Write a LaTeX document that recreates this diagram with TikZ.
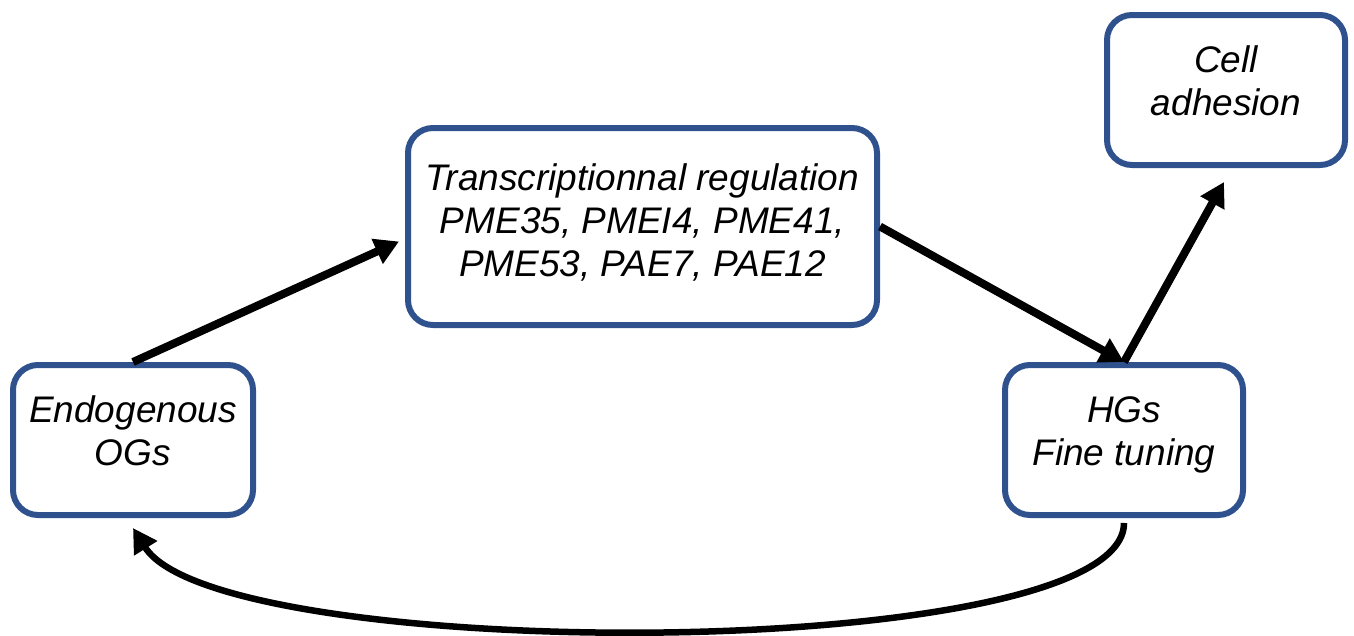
\documentclass[tikz,border=0pt]{standalone}
\usepackage{fontspec}
\setmainfont{Liberation Sans}
\usetikzlibrary{arrows.meta}
\definecolor{boxblue}{RGB}{47,82,143}

\begin{document}
\begin{tikzpicture}[x=1pt,y=-1pt]
            \tikzstyle{every node}+=[font=\fontsize{37}{43}\selectfont\itshape, align=center, inner sep=0pt]
            \tikzstyle{stage}=[draw=boxblue, line width=6pt, rounded corners=25pt, minimum width=240pt, minimum height=150pt, text depth=18pt]
            \tikzstyle{flow}=[black, line width=8pt, -{Triangle[length=24pt,width=26pt]}]
            \useasboundingbox (0,0) rectangle (1354,635);
            \node [stage] (ogs) at (133,440) {Endogenous\\OGs};
            \node [stage, minimum width=469pt, minimum height=197pt, text depth=12pt] (trans) at (642.5,226.5) {Transcriptionnal regulation\\PME35, PMEI4, PME41,\\PME53, PAE7, PAE12};
            \node [stage, minimum width=238pt] (hgs) at (1124,440) {HGs\\Fine tuning};
            \node [stage, minimum width=238pt] (cell) at (1226,90) {Cell\\adhesion};
            \draw [flow] (ogs.north) -- ([xshift=-6pt,yshift=-15pt]trans.west);
            \draw [flow] (trans.east) -- (hgs.north);
            \draw [flow] (hgs.north) -- ([xshift=-2pt,yshift=-14pt]cell.south);
            \draw [flow, line width=6.5pt] ([yshift=-5pt]hgs.south) .. controls +(0,142) and +(86,137) .. ([yshift=-10pt]ogs.south);
\end{tikzpicture}
\end{document}
